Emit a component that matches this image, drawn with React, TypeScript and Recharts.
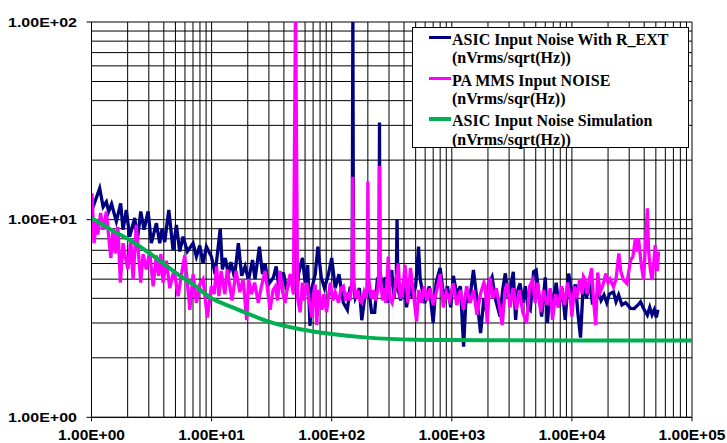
import React from "react";
import { LineChart, Line, XAxis, YAxis, CartesianGrid } from "recharts";

// ---------- axis ticks & labels ----------
const xTicks = [
  1, 2, 3, 4, 5, 6, 7, 8, 9,
  10, 20, 30, 40, 50, 60, 70, 80, 90,
  100, 200, 300, 400, 500, 600, 700, 800, 900,
  1000, 2000, 3000, 4000, 5000, 6000, 7000, 8000, 9000,
  10000, 20000, 30000, 40000, 50000, 60000, 70000, 80000, 90000,
  100000,
];
const yTicks = [1, 2, 3, 4, 5, 6, 7, 8, 9, 10, 20, 30, 40, 50, 60, 70, 80, 90, 100];
const xDecades = [1, 10, 100, 1000, 10000, 100000];
const xDecadeLabels = ["1.00E+00", "1.00E+01", "1.00E+02", "1.00E+03", "1.00E+04", "1.00E+05"];
const yDecades = [1, 10, 100];
const yDecadeLabels = ["1.00E+00", "1.00E+01", "1.00E+02"];

// ---------- legend ----------
const seriesNames = ["ASIC Input Noise With R_EXT", "PA MMS Input NOISE", "ASIC Input Noise Simulation"];
const seriesUnits = ["(nVrms/sqrt(Hz))", "(nVrms/sqr(Hz))", "(nVrms/sqrt(Hz))"];
const seriesColors = ["#000080", "#FF00FF", "#00B050"];

// ---------- data: [frequency, noise] ----------
const asicNoise: [number, number][] = [
  [1.0, 10.8], [1.03, 11.6], [1.17, 14.4], [1.25, 11.6], [1.33, 12.3], [1.39, 11.0], [1.47, 12.0],
  [1.54, 10.8], [1.61, 9.8], [1.75, 12.1], [1.83, 8.9], [1.95, 11.2], [2.08, 8.2], [2.29, 10.2],
  [2.41, 7.9], [2.57, 11.0], [2.74, 8.9], [2.96, 11.0], [3.15, 7.6], [3.47, 9.6], [3.7, 7.6],
  [3.87, 9.0], [4.07, 7.7], [4.4, 11.2], [4.78, 7.0], [5.09, 9.4], [5.43, 6.9], [5.79, 8.2],
  [6.28, 6.9], [7.01, 7.6], [7.47, 6.5], [7.97, 7.4], [8.49, 6.0], [9.05, 7.3], [9.96, 6.5],
  [10.7, 5.3], [11.8, 9.0], [12.3, 5.6], [13.0, 6.4], [13.8, 5.3], [14.5, 6.1], [15.5, 5.1],
  [16.7, 7.6], [17.8, 5.2], [19.0, 5.8], [20.3, 4.95], [21.9, 6.25], [23.0, 5.0], [25.0, 7.3],
  [26.5, 5.3], [27.9, 6.0], [29.7, 4.7], [32.7, 5.1], [34.5, 5.8], [36.5, 4.5], [39.6, 5.4],
  [42.3, 4.4], [46.0, 5.3], [48.5, 4.2], [50.0, 8.0], [51.5, 4.3], [52.9, 5.3], [57.1, 6.4],
  [60.1, 4.8], [63.1, 5.9], [66.0, 2.9], [68.4, 4.5], [72.9, 5.3], [76.7, 7.3], [81.8, 5.1],
  [87.1, 4.5], [94.0, 5.3], [100, 6.4], [107, 4.5], [115, 5.3], [125, 3.8], [135, 3.5],
  [142, 4.5], [148, 4.6], [150, 110], [152, 4.6], [157, 4.0], [170, 4.5], [178, 3.1],
  [190, 4.2], [198, 4.3], [200, 10], [203, 4.5], [215, 3.4], [228, 3.4], [240, 5.0],
  [248, 5.2], [250, 31], [252, 5.5], [265, 4.5], [279, 5.1], [290, 3.8], [316, 5.56],
  [330, 4.0], [345, 5.0], [350, 10.0], [356, 4.5], [375, 3.9], [400, 5.0], [420, 3.6],
  [445, 4.6], [470, 4.0], [500, 4.6], [529, 7.3], [545, 5.0], [596, 3.78], [650, 4.6],
  [700, 3.0], [740, 4.8], [800, 5.7], [860, 4.0], [920, 4.6], [980, 3.6], [1030, 5.2],
  [1100, 4.2], [1180, 4.6], [1254, 2.28], [1320, 4.3], [1400, 3.8], [1514, 5.56], [1600, 4.2],
  [1737, 2.67], [1850, 4.0], [1950, 3.4], [2050, 4.8], [2165, 5.14], [2300, 4.0], [2524, 3.23],
  [2650, 4.4], [2790, 5.35], [2950, 4.0], [3100, 4.6], [3250, 5.45], [3400, 3.11], [3550, 4.4],
  [3700, 4.76], [3900, 3.8], [4100, 4.6], [4300, 3.6], [4500, 3.49], [4800, 5.45], [5040, 5.56],
  [5300, 4.2], [5600, 3.23], [6000, 5.1], [6250, 3.0], [6600, 4.4], [7000, 3.77], [7400, 4.8],
  [7800, 3.6], [8300, 4.5], [8800, 3.11], [9400, 5.34], [10000, 4.2], [10700, 4.7], [11200, 3.4],
  [11800, 2.53], [12500, 5.05], [13200, 4.0], [14100, 4.76], [14800, 3.8], [15800, 3.85],
  [16500, 4.4], [17500, 3.9], [18500, 4.16], [19500, 3.8], [20500, 4.2], [22200, 4.31],
  [23300, 3.85], [24500, 4.16], [26100, 3.7], [28000, 3.8], [30800, 3.56], [33000, 3.55],
  [35500, 3.7], [37300, 3.84], [39500, 3.55], [42500, 3.29], [44500, 3.6], [46500, 3.3],
  [48500, 3.5], [50500, 3.2], [52000, 3.5],
];

const paNoise: [number, number][] = [
  [1.0, 12.0], [1.01, 13.6], [1.05, 7.6], [1.1, 10.0], [1.13, 8.4], [1.19, 10.8], [1.25, 8.9],
  [1.33, 11.0], [1.39, 8.2], [1.45, 6.4], [1.51, 9.0], [1.58, 6.75], [1.66, 9.2], [1.74, 4.8],
  [1.83, 7.6], [1.91, 6.5], [2.01, 5.6], [2.12, 7.9], [2.22, 4.95], [2.36, 9.4], [2.57, 4.8],
  [2.69, 6.7], [2.86, 5.6], [3.05, 6.9], [3.26, 4.6], [3.47, 6.6], [3.62, 5.2], [3.78, 6.7],
  [3.94, 4.8], [4.2, 6.2], [4.49, 4.5], [4.87, 5.6], [5.26, 4.1], [5.61, 5.3], [5.98, 6.6],
  [6.28, 4.8], [6.59, 3.5], [7.01, 5.3], [7.47, 3.8], [7.97, 4.7], [8.49, 5.0], [9.22, 3.2],
  [9.96, 4.6], [10.5, 4.2], [11.0, 5.8], [11.5, 4.1], [12.0, 5.5], [12.9, 4.2], [13.5, 5.6],
  [14.8, 3.9], [16.0, 5.5], [17.2, 4.3], [18.3, 5.0], [19.6, 3.1], [20.3, 5.0], [21.5, 4.2],
  [22.8, 4.8], [24.5, 3.8], [26.0, 4.6], [27.9, 5.5], [29.0, 4.6], [30.7, 3.5], [32.5, 4.4],
  [34.0, 4.6], [35.5, 3.9], [37.2, 5.5], [39.0, 4.3], [41.0, 3.8], [43.0, 4.6], [45.1, 5.3],
  [48.0, 4.2], [50.0, 130], [52.0, 4.0], [54.6, 3.4], [57.0, 4.8], [59.0, 3.9], [62.1, 4.8],
  [65.0, 3.9], [68.4, 3.2], [70.5, 4.2], [72.9, 4.7], [75.0, 2.93], [78.0, 4.4], [82.8, 3.5],
  [86.0, 4.2], [90.6, 3.4], [95.0, 4.3], [97.4, 4.8], [102, 3.9], [107, 4.3], [114, 3.8],
  [120, 4.5], [125, 4.6], [131, 3.9], [137, 4.3], [142, 3.9], [148, 5.0], [150, 16.5],
  [152, 5.0], [158, 4.0], [165, 4.4], [172, 3.9], [178, 3.8], [186, 4.3], [194, 4.0],
  [198, 5.0], [200, 15.6], [203, 5.0], [213, 4.0], [222, 4.4], [232, 3.9], [242, 4.4],
  [248, 5.5], [250, 18.7], [252, 5.5], [265, 3.9], [273, 4.5], [282, 3.8], [296, 6.5],
  [305, 4.0], [318, 3.8], [335, 4.4], [358, 6.0], [372, 4.0], [390, 4.3], [408, 5.9],
  [430, 3.8], [453, 5.7], [480, 4.2], [509, 3.05], [530, 4.4], [560, 3.8], [590, 4.6],
  [620, 3.9], [660, 4.5], [700, 3.7], [750, 4.4], [800, 5.3], [850, 3.6], [900, 4.3],
  [960, 3.9], [1030, 4.76], [1100, 3.7], [1180, 4.4], [1250, 3.5], [1330, 4.6], [1420, 3.8],
  [1520, 4.4], [1620, 3.3], [1730, 4.2], [1850, 4.8], [1900, 4.6], [1970, 3.0], [2080, 5.1],
  [2200, 4.0], [2350, 4.5], [2500, 3.6], [2630, 2.93], [2780, 4.4], [2900, 4.76], [3050, 3.6],
  [3250, 4.5], [3450, 3.5], [3650, 4.4], [3900, 3.4], [4200, 3.0], [4450, 4.6], [4700, 4.95],
  [4950, 3.8], [5200, 4.8], [5500, 3.4], [5800, 4.4], [6200, 3.7], [6600, 4.5], [6900, 3.11],
  [7300, 4.2], [7700, 3.6], [8200, 4.6], [8700, 3.7], [9200, 4.8], [9700, 4.0], [10000, 3.23],
  [10500, 4.6], [11000, 4.0], [11600, 5.0], [12200, 4.2], [12500, 5.14], [12900, 4.95],
  [13400, 4.2], [14000, 5.0], [14600, 5.67], [15100, 4.0], [15800, 2.93], [16400, 5.4],
  [17200, 4.3], [18000, 4.6], [19200, 5.34], [20000, 4.8], [20800, 5.0], [22200, 4.57],
  [23300, 5.0], [24600, 6.75], [25500, 5.5], [26800, 4.97], [28700, 4.76], [30800, 6.25],
  [32200, 6.5], [33800, 8.05], [34800, 6.9], [35800, 8.05], [38000, 5.78], [39500, 4.97],
  [41000, 7.5], [42500, 11.4], [43500, 7.0], [45000, 5.56], [46600, 4.95], [48000, 6.0],
  [49400, 7.44], [50500, 5.9], [51500, 5.5], [52600, 6.88],
];

const simNoise: [number, number][] = [
  [1, 10.2], [1.5, 8.8], [2, 8.0], [3, 6.8], [5, 5.4], [7, 4.7], [10, 4.0], [15, 3.6],
  [20, 3.35], [30, 3.05], [50, 2.82], [70, 2.72], [100, 2.64], [200, 2.53], [500, 2.47],
  [1000, 2.46], [10000, 2.45], [100000, 2.45],
];

const toPoints = (pairs: [number, number][]) => pairs.map(([f, v]) => ({ f, v }));
const asicData = toPoints(asicNoise);
const paData = toPoints(paNoise);
const simData = toPoints(simNoise);

const sansBold = "'Liberation Sans', Arial, Helvetica, sans-serif";
const serifBold = "'Liberation Serif', 'Times New Roman', Times, serif";

const XTick = (props: any) => {
  const { x, y, payload } = props;
  const i = xDecades.indexOf(payload.value);
  if (i < 0) return <g />;
  return (
    <g>
      <line x1={x} y1={y} x2={x} y2={y + 4} stroke="#000" strokeWidth={1} />
      <text x={x} y={y + 22.5} textAnchor="middle" fontFamily={sansBold} fontWeight={700} fontSize={15.5} fill="#000">
        {xDecadeLabels[i]}
      </text>
    </g>
  );
};

const YTick = (props: any) => {
  const { x, y, payload } = props;
  const i = yDecades.indexOf(payload.value);
  if (i < 0) return <g />;
  return (
    <g>
      <line x1={x - 5} y1={y} x2={x} y2={y} stroke="#000" strokeWidth={1} />
      <text
        x={x - 14.5}
        y={y + 4.5}
        textAnchor="end"
        fontFamily={sansBold}
        fontWeight={700}
        fontSize={12.5}
        fill="#000"
        textLength={69}
        lengthAdjust="spacingAndGlyphs"
      >
        {yDecadeLabels[i]}
      </text>
    </g>
  );
};

const legendRows = [
  { nameTop: 29.9, unitTop: 48.4, lineY: 37.7, lineH: 3 },
  { nameTop: 70.7, unitTop: 89.4, lineY: 78.3, lineH: 3 },
  { nameTop: 110.9, unitTop: 129.9, lineY: 119, lineH: 4 },
];

export default function App() {
  return (
    <div style={{ position: "absolute", left: 0, top: 0, width: 727, height: 443, background: "#fff" }}>
      <LineChart width={727} height={443} margin={{ top: 22, right: 35, bottom: 0, left: 0 }}>
        <CartesianGrid stroke="#000" strokeWidth={1} />
        <XAxis
          dataKey="f"
          type="number"
          scale="log"
          domain={[1, 100000]}
          ticks={xTicks}
          interval={0}
          allowDataOverflow
          height={25.7}
          tickSize={0}
          tickMargin={0}
          tickLine={false}
          axisLine={{ stroke: "#000", strokeWidth: 1 }}
          tick={<XTick />}
        />
        <YAxis
          type="number"
          scale="log"
          domain={[1, 100]}
          ticks={yTicks}
          interval={0}
          allowDataOverflow
          width={91.5}
          tickSize={0}
          tickMargin={0}
          tickLine={false}
          axisLine={{ stroke: "#000", strokeWidth: 1 }}
          tick={<YTick />}
        />
        <Line data={asicData} dataKey="v" type="linear" stroke={seriesColors[0]} strokeWidth={3.3} dot={false} isAnimationActive={false} />
        <Line data={paData} dataKey="v" type="linear" stroke={seriesColors[1]} strokeWidth={3.3} dot={false} isAnimationActive={false} />
        <Line data={simData} dataKey="v" type="monotone" stroke={seriesColors[2]} strokeWidth={4} dot={false} isAnimationActive={false} />
      </LineChart>
      <div
        style={{
          position: "absolute",
          left: 411.5,
          top: 26.5,
          width: 277,
          height: 121,
          boxSizing: "border-box",
          background: "#fff",
          border: "1px solid #000",
        }}
      />
      {legendRows.map((r, i) => (
        <React.Fragment key={i}>
          <div
            style={{
              position: "absolute",
              left: 429,
              top: r.lineY - r.lineH / 2,
              width: 22,
              height: r.lineH,
              background: seriesColors[i],
            }}
          />
          <div
            style={{
              position: "absolute",
              left: 452,
              top: r.nameTop,
              fontFamily: serifBold,
              fontWeight: 700,
              fontSize: 16,
              lineHeight: "19px",
              whiteSpace: "nowrap",
              color: "#000",
            }}
          >
            {seriesNames[i]}
          </div>
          <div
            style={{
              position: "absolute",
              left: 452,
              top: r.unitTop,
              fontFamily: serifBold,
              fontWeight: 700,
              fontSize: 16,
              lineHeight: "19px",
              whiteSpace: "nowrap",
              color: "#000",
            }}
          >
            {seriesUnits[i]}
          </div>
        </React.Fragment>
      ))}
    </div>
  );
}
